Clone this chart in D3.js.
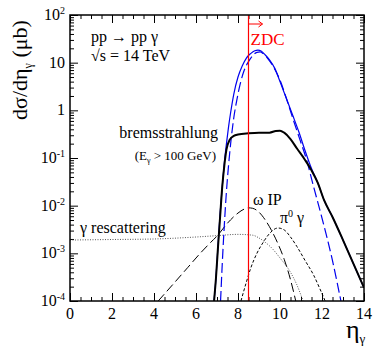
<!DOCTYPE html>
<html>
<head>
<meta charset="utf-8">
<script src="https://cdn.jsdelivr.net/npm/d3@7.9.0/dist/d3.min.js"></script>
<style>
  body { margin: 0; background: #fff; }
</style>
</head>
<body>
<div id="viz"></div>
<script>
// data: eta, dsigma/deta (mub)
const totalCurve = [
  [6.86, 1e-4], [6.95, 3e-4], [7.05, 1.5e-3], [7.15, 7e-3], [7.25, 0.025], [7.35, 0.08],
  [7.45, 0.2], [7.55, 0.45], [7.65, 0.9], [7.8, 2.2], [8.0, 5], [8.2, 8.5], [8.4, 12.5],
  [8.6, 15.5], [8.8, 17.8], [8.95, 18.3], [9.1, 17.5], [9.3, 14.5], [9.5, 11.5],
  [9.76, 7.5], [10.0, 4], [10.3, 1.8], [10.6, 0.8], [10.9, 0.35], [11.2, 0.14],
  [11.5, 0.06], [11.8, 0.03], [12.1, 0.013], [12.5, 0.0058], [13.0, 0.0019],
  [13.5, 6e-4], [14.0, 1.9e-4]
];
const peripheralCurve = [
  [7.17, 1e-4], [7.25, 6e-4], [7.35, 4e-3], [7.45, 0.02], [7.55, 0.07], [7.65, 0.2],
  [7.8, 0.7], [7.95, 1.7], [8.1, 3.5], [8.3, 7], [8.5, 10.5], [8.7, 14], [8.9, 16.5],
  [9.05, 16.8], [9.2, 15.5], [9.4, 12.5], [9.7, 8], [10.0, 4.3], [10.3, 1.8],
  [10.6, 0.7], [10.9, 0.28], [11.27, 0.09], [11.6, 0.025], [12.0, 0.0055],
  [12.5, 7e-4], [12.9, 1e-4]
];
const bremsCurve = [
  [6.86, 1e-4], [6.95, 3e-4], [7.05, 1.4e-3], [7.15, 6e-3], [7.25, 0.025], [7.35, 0.07],
  [7.45, 0.15], [7.6, 0.24], [7.8, 0.29], [8.0, 0.31], [8.5, 0.33], [9.0, 0.34],
  [9.5, 0.34], [9.8, 0.37], [10.0, 0.375], [10.2, 0.34], [10.5, 0.25], [10.8, 0.16],
  [11.2, 0.09], [11.5, 0.055], [11.8, 0.03], [12.1, 0.013], [12.5, 0.0058],
  [13.0, 0.0019], [13.5, 6e-4], [14.0, 1.9e-4]
];
const omegaCurve = [
  [4.2, 1e-4], [5.0, 2.5e-4], [5.6, 5e-4], [6.2, 1e-3], [6.7, 1.7e-3], [7.0, 2.3e-3],
  [7.5, 4.3e-3], [8.0, 7e-3], [8.3, 8.5e-3], [8.5, 9e-3], [8.7, 8.8e-3], [9.0, 7.3e-3],
  [9.3, 5e-3], [9.6, 3e-3], [9.9, 1.6e-3], [10.2, 7.5e-4], [10.5, 2.8e-4], [10.75, 1e-4]
];
const pi0Curve = [
  [8.14, 1e-4], [8.4, 2.5e-4], [8.6, 4.8e-4], [8.9, 1e-3], [9.2, 1.7e-3], [9.5, 2.6e-3],
  [9.9, 3.4e-3], [10.2, 3.1e-3], [10.5, 2.2e-3], [10.8, 1.4e-3], [11.2, 7e-4],
  [11.6, 3.5e-4], [11.9, 1.8e-4], [12.15, 1e-4]
];
const rescatCurve = [
  [0, 1.9e-3], [2, 1.95e-3], [4, 2e-3], [6, 2.2e-3], [7, 2.35e-3], [8, 2.5e-3],
  [8.7, 2.4e-3], [9.0, 2.1e-3], [9.3, 1.7e-3], [9.6, 1.3e-3], [10.0, 8e-4],
  [10.5, 4e-4], [10.8, 2.2e-4], [11.1, 1e-4]
];
const zdcEta = 8.5;

const xTicks = [0, 2, 4, 6, 8, 10, 12, 14];
const yTicks = [1e2, 1e1, 1, 1e-1, 1e-2, 1e-3, 1e-4];
const yTickLabels = [["10", "2"], ["10", ""], ["1", ""], ["10", "-1"], ["10", "-2"], ["10", "-3"], ["10", "-4"]];

const width = 373, height = 346;
const mLeft = 70, mRight = 364, mTop = 15, mBottom = 301;

const svg = d3.select("#viz").append("svg")
  .attr("width", width).attr("height", height)
  .style("font-family", "\"Liberation Serif\", serif");

const x = d3.scaleLinear().domain([0, 14]).range([mLeft, mRight]);
const y = d3.scaleLog().domain([1e-4, 1e2]).range([mBottom, mTop]);

svg.append("clipPath").attr("id", "clip")
  .append("rect").attr("x", mLeft).attr("y", mTop)
  .attr("width", mRight - mLeft).attr("height", mBottom - mTop);

// minor ticks
const xMinor = d3.range(0, 14.01, 0.5).filter(v => v % 2 !== 0);
const yMinor = [];
for (let e = -4; e < 2; e++) for (let k = 2; k <= 9; k++) yMinor.push(k * Math.pow(10, e));

function axisGroup(axis, tx, ty) {
  const g = svg.append("g").attr("transform", `translate(${tx},${ty})`).call(axis);
  g.select(".domain").remove();
  g.selectAll("line").attr("stroke", "#000").attr("stroke-width", 1);
  return g;
}

// bottom + top
axisGroup(d3.axisBottom(x).tickValues(xTicks).tickSize(-8).tickFormat(""), 0, mBottom);
axisGroup(d3.axisBottom(x).tickValues(xMinor).tickSize(-4).tickFormat(""), 0, mBottom);
axisGroup(d3.axisTop(x).tickValues(xTicks).tickSize(-8).tickFormat(""), 0, mTop);
axisGroup(d3.axisTop(x).tickValues(xMinor).tickSize(-4).tickFormat(""), 0, mTop);
// left + right
axisGroup(d3.axisLeft(y).tickValues(yTicks).tickSize(-8).tickFormat(""), mLeft, 0);
axisGroup(d3.axisLeft(y).tickValues(yMinor).tickSize(-4).tickFormat(""), mLeft, 0);
axisGroup(d3.axisRight(y).tickValues(yTicks).tickSize(-8).tickFormat(""), mRight, 0);
axisGroup(d3.axisRight(y).tickValues(yMinor).tickSize(-4).tickFormat(""), mRight, 0);

// tick labels
svg.append("g").selectAll("text").data(xTicks).join("text")
  .attr("x", d => x(d)).attr("y", mBottom + 18)
  .attr("text-anchor", "middle").attr("font-size", 16)
  .text(d => d);

const yl = svg.append("g").selectAll("text").data(yTicks).join("text")
  .attr("x", mLeft - 5).attr("y", d => y(d) + 5)
  .attr("text-anchor", "end").attr("font-size", 16);
yl.each(function(d, i) {
  const t = d3.select(this);
  const [base, sup] = yTickLabels[i];
  t.append("tspan").text(base);
  if (sup) t.append("tspan").attr("dy", -6).attr("font-size", 10).text(sup);
});

// curves
const line = d3.line().x(d => x(d[0])).y(d => y(d[1])).curve(d3.curveMonotoneX);
const plot = svg.append("g").attr("clip-path", "url(#clip)");

plot.append("path").datum(rescatCurve).attr("d", line)
  .attr("fill", "none").attr("stroke", "#555").attr("stroke-width", 1)
  .attr("stroke-dasharray", "1,1.5");
plot.append("path").datum(omegaCurve).attr("d", line)
  .attr("fill", "none").attr("stroke", "#000").attr("stroke-width", 1)
  .attr("stroke-dasharray", "9,4");
plot.append("path").datum(pi0Curve).attr("d", line)
  .attr("fill", "none").attr("stroke", "#000").attr("stroke-width", 1)
  .attr("stroke-dasharray", "3,2");
plot.append("path").datum(peripheralCurve).attr("d", line)
  .attr("fill", "none").attr("stroke", "#0000ee").attr("stroke-width", 1.2)
  .attr("stroke-dasharray", "10,4");
plot.append("path").datum(totalCurve).attr("d", line)
  .attr("fill", "none").attr("stroke", "#0000ee").attr("stroke-width", 1.2);
plot.append("path").datum(bremsCurve).attr("d", line)
  .attr("fill", "none").attr("stroke", "#000").attr("stroke-width", 2);

// ZDC marker
svg.append("line").attr("x1", x(zdcEta)).attr("x2", x(zdcEta))
  .attr("y1", mTop).attr("y2", mBottom).attr("stroke", "#ff0000").attr("stroke-width", 1.2);
svg.append("line").attr("x1", x(zdcEta)).attr("x2", x(zdcEta) + 14)
  .attr("y1", 24).attr("y2", 24).attr("stroke", "#ff0000").attr("stroke-width", 1);
svg.append("path").attr("d", `M${x(zdcEta) + 10},21 L${x(zdcEta) + 14},24 L${x(zdcEta) + 10},27`)
  .attr("fill", "none").attr("stroke", "#ff0000").attr("stroke-width", 1);
svg.append("text").attr("x", x(zdcEta) + 2).attr("y", 45)
  .attr("font-size", 17).attr("fill", "#ff0000").text("ZDC");

// frame
svg.append("rect").attr("x", mLeft).attr("y", mTop)
  .attr("width", mRight - mLeft).attr("height", mBottom - mTop)
  .attr("fill", "none").attr("stroke", "#000").attr("stroke-width", 1.5);

// annotations
svg.append("text").attr("x", 91).attr("y", 42).attr("font-size", 16).text("pp → pp γ");
svg.append("text").attr("x", 91).attr("y", 61).attr("font-size", 16).text("√s = 14 TeV");

svg.append("text").attr("x", 218).attr("y", 138).attr("text-anchor", "end")
  .attr("font-size", 16).text("bremsstrahlung");
const ec = svg.append("text").attr("x", 216).attr("y", 160).attr("text-anchor", "end")
  .attr("font-size", 13);
ec.append("tspan").text("(E");
ec.append("tspan").attr("dy", 3).attr("font-size", 8).text("γ");
ec.append("tspan").attr("dy", -3).text(" > 100 GeV)");

svg.append("text").attr("x", 80).attr("y", 233).attr("font-size", 16).text("γ rescattering");
svg.append("text").attr("x", 253).attr("y", 205).attr("font-size", 16).text("ω IP");
const pt = svg.append("text").attr("x", 280).attr("y", 223).attr("font-size", 16);
pt.append("tspan").text("π");
pt.append("tspan").attr("dy", -6).attr("font-size", 10).text("0");
pt.append("tspan").attr("dy", 6).text(" γ");

// axis titles
const yt = svg.append("text").attr("transform", "translate(27,70) rotate(-90)")
  .attr("text-anchor", "middle").attr("font-size", 22);
yt.append("tspan").text("dσ/dη");
yt.append("tspan").attr("dy", 5).attr("font-size", 12).text("γ");
yt.append("tspan").attr("dy", -5).text(" (μb)");

const xt = svg.append("text").attr("x", 346).attr("y", 338).attr("font-size", 26);
xt.append("tspan").text("η");
xt.append("tspan").attr("dy", 5).attr("font-size", 13).text("γ");
</script>
</body>
</html>
